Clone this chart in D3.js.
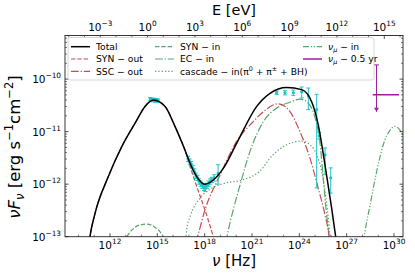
<!DOCTYPE html>
<html><head><meta charset="utf-8">
<script src="https://cdn.jsdelivr.net/npm/d3@7"></script>
<style>body{margin:0;background:#fff}svg{display:block;font-family:"DejaVu Sans",sans-serif}</style>
</head><body><svg id="c" width="415" height="277"></svg>
<script>
// All values are log10(nu [Hz]) and log10(nuF_nu [erg s^-1 cm^-2])
const totalCurve = [[10.6,-13.3],[10.73,-13.0],[11.05,-12.56],[11.89,-11.86],[12.74,-11.29],[13.59,-10.84],[14.22,-10.52],[14.75,-10.40],[15.49,-10.52],[16.12,-10.90],[16.75,-11.35],[17.1,-11.62],[17.6,-11.90],[18.02,-12.0],[18.55,-11.92],[19.18,-11.70],[20.13,-11.16],[21.3,-10.52],[22.14,-10.27],[23.2,-10.16],[24.15,-10.2],[24.78,-10.43],[25.2,-10.87],[25.63,-11.64],[26.05,-12.46],[26.35,-13.1]];
const synOut = [[10.6,-13.3],[10.73,-13.0],[11.05,-12.56],[11.89,-11.86],[12.74,-11.29],[13.59,-10.84],[14.22,-10.52],[14.75,-10.40],[15.49,-10.52],[16.12,-10.90],[16.75,-11.35],[17.18,-11.76],[17.6,-12.13],[18.02,-12.49],[18.6,-13.05]];
const sscOut = [[17.45,-13.1],[17.55,-13.0],[18.02,-12.49],[18.97,-11.83],[20.02,-11.19],[21.08,-10.81],[21.72,-10.62],[22.67,-10.47],[23.41,-10.62],[24.04,-11.0],[24.68,-11.51],[25.2,-12.08],[25.63,-12.59],[25.84,-12.9],[25.92,-13.1]];
const synIn = [[12.85,-13.1],[13.06,-13.0],[13.4,-12.87],[13.85,-12.78],[14.33,-12.76],[14.8,-12.81],[15.15,-12.9],[15.38,-13.0],[15.5,-13.08]];
const ecIn = [[19.35,-13.1],[19.45,-12.95],[20.24,-12.02],[20.87,-11.38],[21.72,-10.81],[22.57,-10.55],[23.41,-10.44],[24.04,-10.38],[24.57,-10.46],[25.0,-10.74],[25.3,-11.19],[25.5,-11.83],[25.73,-12.59],[25.85,-12.9],[25.9,-13.1]];
const cascadeIn = [[16.8,-13.05],[16.86,-12.87],[17.1,-12.6],[17.7,-12.27],[18.5,-12.07],[19.3,-11.98],[20.4,-11.92],[21.5,-11.75],[22.3,-11.45],[23.2,-11.25],[24.15,-11.18],[24.68,-11.25],[25.1,-11.44],[25.42,-11.76],[25.63,-12.14],[25.84,-12.65],[25.95,-13.0],[26.0,-13.1]];
const nuMuIn = [[28.05,-13.1],[28.16,-12.9],[28.48,-12.40],[28.9,-11.76],[29.32,-11.25],[29.75,-10.97],[30.06,-10.90],[30.38,-10.97],[30.7,-11.15]];
// observed data: [logNu, logFlux, errLow, errHigh]
const optData = [[14.55,-10.38,0.03,0.03],[14.65,-10.40,0.03,0.03],[14.75,-10.39,0.03,0.03],[14.85,-10.41,0.03,0.03],[14.95,-10.40,0.03,0.03],[15.05,-10.41,0.03,0.03]];
const xrayData = [[16.95,-11.52,0.05,0.05],[17.05,-11.57,0.05,0.05],[17.15,-11.62,0.05,0.05],[17.25,-11.70,0.05,0.05],[17.35,-11.76,0.05,0.05],[17.45,-11.84,0.05,0.05],[17.55,-11.88,0.05,0.05],[17.65,-11.95,0.05,0.05],[17.75,-11.99,0.05,0.05],[17.85,-12.03,0.05,0.05],[17.95,-12.06,0.06,0.06],[18.05,-12.08,0.06,0.06],[18.15,-12.03,0.05,0.05],[18.25,-11.99,0.05,0.05],[18.35,-11.95,0.05,0.05],[18.45,-11.92,0.05,0.05],[18.6,-11.88,0.06,0.06],[18.85,-11.80,0.2,0.17]];
const gammaData = [[22.56,-10.26,0.03,0.03],[23.09,-10.26,0.04,0.04],[23.62,-10.26,0.05,0.05],[24.15,-10.24,0.12,0.09],[24.57,-10.32,0.26,0.15],[25.1,-10.58,1.49,0.29],[25.26,-11.08,0.06,0.06],[25.63,-11.44,0.38,0.13],[25.99,-11.88,0.29,0.19]];
// neutrino upper limit: [logNu, logFlux, logNuLow, logNuHigh, logTop, logArrowTip]
const nuMuLimit = [28.89,-10.30,28.65,30.32,-9.73,-10.62];
const xTickExp = [12,15,18,21,24,27,30];
const eTickExp = [-3,0,3,6,9,12,15];
const yTickExp = [-13,-12,-11,-10];
const hPlanck = 4.135667e-15; // eV s

const svg = d3.select('#c');
const L=65,R=403,T=35.5,B=236.7;
const x = d3.scaleLog().domain([10**9.15,10**30.57]).range([L,R]);
const y = d3.scaleLog().domain([1e-13,10**-9.17]).range([B,T]);
const xe = d3.scaleLog().domain([10**9.15*hPlanck,10**30.57*hPlanck]).range([L,R]);

const red='#c44e52', green='#55a868', cyan='#1cc4c4', purple='#9a1f9a';

svg.append('defs').append('clipPath').attr('id','clip').append('rect').attr('x',L).attr('y',T).attr('width',R-L).attr('height',B-T);

const line = d3.line().x(d=>x(10**d[0])).y(d=>y(10**d[1])).curve(d3.curveMonotoneX);
const g = svg.append('g').attr('clip-path','url(#clip)');

function curve(data,color,dash,w){
  g.append('path').attr('d',line(data)).attr('fill','none').attr('stroke',color).attr('stroke-width',w||1.2).attr('stroke-dasharray',dash||null);
}
const DASH='4.4,1.9', DASHDOT='7.7,1.9,1.3,1.9', DOT='1.3,2', DDD='6,1.8,1.2,1.8,1.2,1.8';
curve(synIn,green,DASH);
curve(ecIn,green,DASHDOT);
curve(cascadeIn,green,DOT);
curve(nuMuIn,green,DDD);
curve(synOut,red,DASH);
curve(sscOut,red,DASHDOT);

// data points
function pts(data){
  data.forEach(d=>{
    const px=x(10**d[0]), py=y(10**d[1]), y1=y(10**(d[1]-d[2])), y2=y(10**(d[1]+d[3]));
    g.append('line').attr('x1',px).attr('x2',px).attr('y1',y1).attr('y2',y2).attr('stroke',cyan).attr('stroke-width',1);
    [y1,y2].forEach(yy=>g.append('line').attr('x1',px-2).attr('x2',px+2).attr('y1',yy).attr('y2',yy).attr('stroke',cyan).attr('stroke-width',1));
    g.append('circle').attr('cx',px).attr('cy',py).attr('r',1.6).attr('fill',cyan);
  });
}
pts(optData); pts(xrayData); pts(gammaData);
curve(totalCurve,'#000',null,1.5);

// neutrino limit
{
  const [ln,lf,l0,l1,lt,la]=nuMuLimit;
  const px=x(10**ln), py=y(10**lf);
  g.append('line').attr('x1',x(10**l0)).attr('x2',x(10**l1)).attr('y1',py).attr('y2',py).attr('stroke',purple).attr('stroke-width',1.5);
  g.append('line').attr('x1',px).attr('x2',px).attr('y1',y(10**lt)).attr('y2',y(10**la)).attr('stroke',purple).attr('stroke-width',1);
  g.append('line').attr('x1',px-2.5).attr('x2',px+2.5).attr('y1',y(10**lt)).attr('y2',y(10**lt)).attr('stroke',purple).attr('stroke-width',1);
  const ty=y(10**la);
  g.append('path').attr('d',`M${px-2.5},${ty-4}L${px+2.5},${ty-4}L${px},${ty}Z`).attr('fill',purple);
}

// axes frame
svg.append('rect').attr('x',L).attr('y',T).attr('width',R-L).attr('height',B-T).attr('fill','none').attr('stroke','#222').attr('stroke-width',0.9);

function sup(sel,base,exp,fs){
  sel.append('tspan').text(base);
  sel.append('tspan').attr('dy',-fs*0.45).attr('font-size',fs*0.7).text(exp);
}
const fmtExp = e => (e<0?'\u2212':'')+Math.abs(e);
const tickC='#222';
// bottom ticks
const xMinor=d3.range(10,31).filter(e=>!xTickExp.includes(e));
xTickExp.forEach(e=>{
  const px=x(10**e);
  svg.append('line').attr('x1',px).attr('x2',px).attr('y1',B).attr('y2',B-3.5).attr('stroke',tickC).attr('stroke-width',0.8);
  const t=svg.append('text').attr('x',px).attr('y',249).attr('text-anchor','middle').attr('font-size',10.5);
  sup(t,'10',fmtExp(e),10.5);
});
xMinor.forEach(e=>{const px=x(10**e);svg.append('line').attr('x1',px).attr('x2',px).attr('y1',B).attr('y2',B-2).attr('stroke',tickC).attr('stroke-width',0.6);});
// top ticks (E)
eTickExp.forEach(e=>{
  const px=xe(10**e);
  svg.append('line').attr('x1',px).attr('x2',px).attr('y1',T).attr('y2',T+3.5).attr('stroke',tickC).attr('stroke-width',0.8);
  const t=svg.append('text').attr('x',px).attr('y',30.5).attr('text-anchor','middle').attr('font-size',10.5);
  sup(t,'10',fmtExp(e),10.5);
});
d3.range(-5,17).filter(e=>!eTickExp.includes(e)).forEach(e=>{const px=xe(10**e);if(px>L&&px<R)svg.append('line').attr('x1',px).attr('x2',px).attr('y1',T).attr('y2',T+2).attr('stroke',tickC).attr('stroke-width',0.6);});
// y ticks
yTickExp.forEach(e=>{
  const py=y(10**e);
  [[L,L+3.5],[R,R-3.5]].forEach(([a,b])=>svg.append('line').attr('x1',a).attr('x2',b).attr('y1',py).attr('y2',py).attr('stroke',tickC).attr('stroke-width',0.8));
  const t=svg.append('text').attr('x',61).attr('y',py+4).attr('text-anchor','end').attr('font-size',10.5);
  sup(t,'10',fmtExp(e),10.5);
});
d3.range(-13,-9).forEach(e=>d3.range(2,10).forEach(m=>{
  const v=m*10**e; if(v>10**-9.17) return; const py=y(v);
  [[L,L+2],[R,R-2]].forEach(([a,b])=>svg.append('line').attr('x1',a).attr('x2',b).attr('y1',py).attr('y2',py).attr('stroke',tickC).attr('stroke-width',0.6));
}));

// axis titles
svg.append('text').attr('x',(L+R)/2).attr('y',266).attr('text-anchor','middle').attr('font-size',15)
  .html('<tspan font-style="italic">ν</tspan> [Hz]');
svg.append('text').attr('x',(L+R)/2).attr('y',15).attr('text-anchor','middle').attr('font-size',14.5).text('E [eV]');
svg.append('text').attr('transform','translate(20,147) rotate(-90)').attr('text-anchor','middle').attr('font-size',16.5)
  .html('<tspan font-style="italic">νF</tspan><tspan font-style="italic" font-size="11.5" dy="3.5">ν</tspan><tspan dy="-3.5"> [erg s</tspan><tspan font-size="11.5" dy="-7">−1</tspan><tspan dy="7">cm</tspan><tspan font-size="11.5" dy="-7">−2</tspan><tspan dy="7">]</tspan>');

// legend
const leg=svg.append('g');
leg.append('rect').attr('x',68).attr('y',37.5).attr('width',306).attr('height',42.5).attr('rx',2.5).attr('fill','#fff').attr('fill-opacity',0.85).attr('stroke','#ccc').attr('stroke-width',0.8);
const legItems=[
  {c:0,r:0,col:'#000',d:null,w:1.5,t:'Total'},
  {c:0,r:1,col:red,d:DASH,t:'SYN − out'},
  {c:0,r:2,col:red,d:DASHDOT,t:'SSC − out'},
  {c:1,r:0,col:green,d:DASH,t:'SYN − in'},
  {c:1,r:1,col:green,d:DASHDOT,t:'EC − in'},
  {c:1,r:2,col:green,d:DOT,t:'cascade − in(π<tspan font-size="6.4" dy="-3.5">0</tspan><tspan dy="3.5"> + π</tspan><tspan font-size="6.4" dy="-3.5">±</tspan><tspan dy="3.5"> + BH)</tspan>'},
  {c:2,r:0,col:green,d:DDD,t:'<tspan font-style="italic">ν</tspan><tspan font-style="italic" font-size="6.4" dy="2">μ</tspan><tspan dy="-2"> − in</tspan>'},
  {c:2,r:1,col:purple,d:null,w:1.5,t:'<tspan font-style="italic">ν</tspan><tspan font-style="italic" font-size="6.4" dy="2">μ</tspan><tspan dy="-2"> − 0.5 yr</tspan>'}
];
const colX=[71,155,303], rowY=[46.7,59,71.3];
legItems.forEach(it=>{
  const x0=colX[it.c], yy=rowY[it.r];
  leg.append('line').attr('x1',x0).attr('x2',x0+19).attr('y1',yy).attr('y2',yy).attr('stroke',it.col).attr('stroke-width',it.w||1.2).attr('stroke-dasharray',it.d);
  leg.append('text').attr('x',x0+25).attr('y',yy+3.2).attr('font-size',9.2).html(it.t);
});
</script></body></html>
